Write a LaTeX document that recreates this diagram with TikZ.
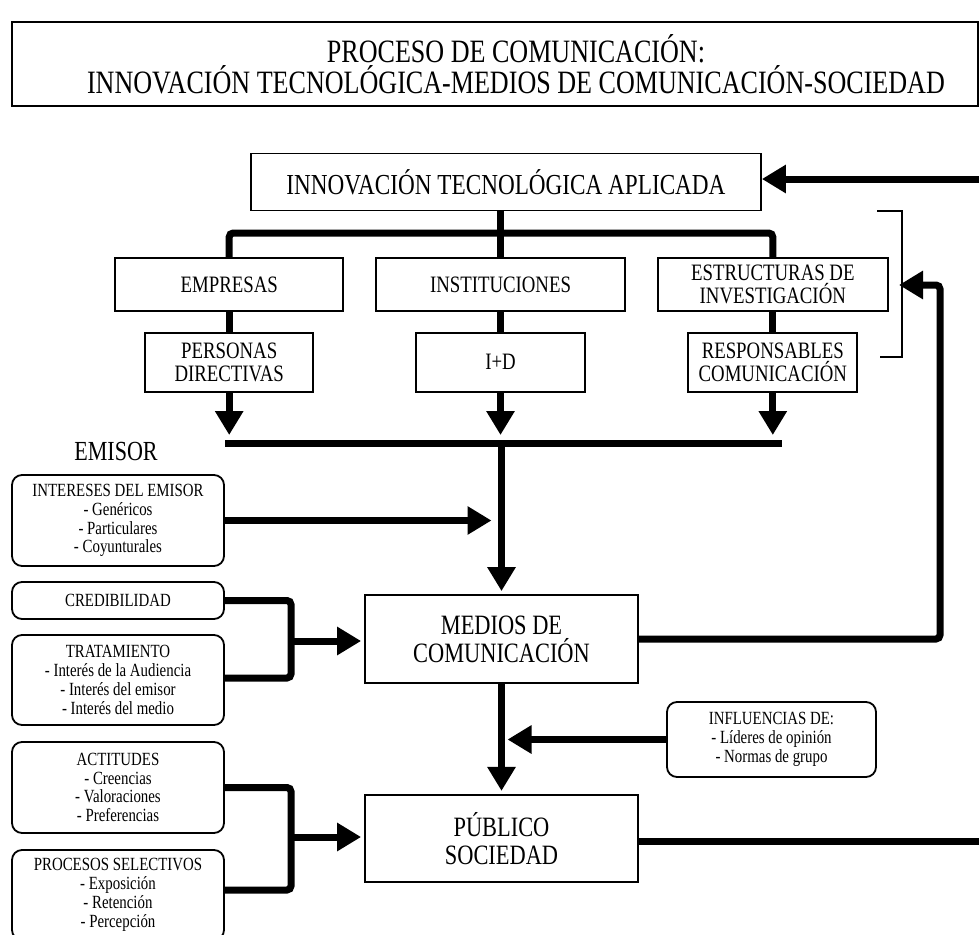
\documentclass[tikz,border=0pt]{standalone}
\usepackage{fontspec}
\setmainfont{Liberation Serif}[FakeStretch=0.8]
\usetikzlibrary{positioning, arrows.meta, calc}

\tikzset{
  base/.style={
    draw,
    line width=1.8pt,
    align=center,
    inner sep=0pt,
  },
  mainbox/.style={base, font=\fontsize{28}{28}\selectfont},
  orgbox/.style={base, font=\fontsize{23.5}{23.5}\selectfont},
  factor/.style={base, rounded corners=10pt, minimum width=212pt, font=\fontsize{18.6}{18.8}\selectfont},
  conn/.style={line width=7pt},
  arr/.style={conn, -{Triangle[length=24pt, width=27pt]}},
  brk/.style={line width=1.6pt},
}

\begin{document}
\begin{tikzpicture}[x=1pt, y=-1pt]
\useasboundingbox (0,0) rectangle (979,934);
\clip (0,0) rectangle (979,934);

% Title
\node[base, minimum width=966pt, minimum height=84pt] (title) at (495,64) {};
\node[font=\fontsize{32.6}{31}\selectfont, align=center, inner sep=0pt] (titletext) at (516,64)
  {PROCESO DE COMUNICACIÓN:\\INNOVACIÓN TECNOLÓGICA-MEDIOS DE COMUNICACIÓN-SOCIEDAD};

% Emisor block
\node[base, font=\fontsize{29}{29}\selectfont, minimum width=510pt, minimum height=57pt] (innov) at (506,182) {INNOVACIÓN TECNOLÓGICA APLICADA};
\node[orgbox, minimum width=249pt, minimum height=53pt] (inst) at (500.5,284.5) {INSTITUCIONES};
\node[orgbox, minimum width=228pt, minimum height=53pt, left=31pt of inst] (emp) {EMPRESAS};
\node[orgbox, minimum width=230pt, minimum height=53pt, right=31pt of inst] (est) {ESTRUCTURAS DE\\INVESTIGACIÓN};
\node[orgbox, minimum width=168pt, minimum height=59pt, below=20pt of emp] (pers) {PERSONAS\\DIRECTIVAS};
\node[orgbox, minimum width=169pt, minimum height=59pt, below=20pt of inst] (imasd) {I+D};
\node[orgbox, minimum width=169pt, minimum height=59pt, below=20pt of est] (resp) {RESPONSABLES\\COMUNICACIÓN};
\node[font=\fontsize{27.6}{27}\selectfont, inner sep=0pt] (emisor) at (116,451) {EMISOR};

% Medios and publico
\node[mainbox, minimum width=273pt, minimum height=88pt] (medios) at (501.5,639) {MEDIOS DE\\COMUNICACIÓN};
\node[mainbox, minimum width=273pt, minimum height=87pt, below=110pt of medios] (publico) {PÚBLICO\\SOCIEDAD};

% Factors (left and right)
\node[factor, minimum height=91pt] (interes) at (118,520.5) {INTERESES DEL EMISOR\\- Genéricos\\- Particulares\\- Coyunturales};
\node[factor, minimum height=37pt] (cred) at (118,600.5) {CREDIBILIDAD};
\node[factor, minimum height=90pt] (trat) at (118,680) {TRATAMIENTO\\- Interés de la Audiencia\\- Interés del emisor\\- Interés del medio};
\node[factor, minimum height=91pt] (actit) at (118,787.5) {ACTITUDES\\- Creencias\\- Valoraciones\\- Preferencias};
\node[factor, minimum height=90pt] (proc) at (118,895) {PROCESOS SELECTIVOS\\- Exposición\\- Retención\\- Percepción};
\node[factor, minimum width=209pt, minimum height=75pt] (infl) at (771.5,739.5) {INFLUENCIAS DE:\\- Líderes de opinión\\- Normas de grupo};

% Helper points
\coordinate (topbar) at (0,233);
\coordinate (barL) at (225,443);
\coordinate (barR) at (782,443);
\coordinate (j1) at (291,641);
\coordinate (j2) at (291,837);
\coordinate (fb) at (940,285);
\coordinate (fbtip) at (899,285);
\coordinate (retorno) at (990,179);
\coordinate (salida) at (990,841);
\coordinate (brkA) at (877,211);
\coordinate (brkB) at (902,357);
\coordinate (brkC) at (880,357);

% --- Connectors ---------------------------------------------------------
\draw[arr] (retorno) -- (innov.east |- retorno);
\draw[conn] (innov.south -| inst.north) -- (inst.north);
\draw[conn, rounded corners=4pt] (emp.north) |- (topbar -| est.north) -- (est.north);
\foreach \a/\b in {emp/pers, inst/imasd, est/resp}
  {\draw[conn] (\a.south) -- (\b.north);}
\foreach \b in {pers, imasd, resp}
  {\draw[arr] (\b.south) -- ([yshift=8pt]\b.south |- barL);}
\draw[conn] (barL) -- (barR);
\draw[arr, shorten >=3pt] (medios.north |- barL) -- (medios.north);
\draw[arr, shorten >=10pt] (interes.east) -- (medios.north |- interes.east);

\draw[conn, rounded corners=4pt] (cred.east) -| (j1) |- ([yshift=2pt]trat.east);
\draw[arr, shorten >=3pt] (j1) -- (medios.west |- j1);
\draw[arr, rounded corners=4pt] (medios.east) -| (fb) -- (fbtip);
\draw[brk] (brkA) -| (brkB) -- (brkC);

\draw[arr, shorten >=3pt] (medios.south) -- (publico.north);
\draw[arr, shorten >=6pt] (infl.west) -- (medios.south |- infl.west);

\draw[conn, rounded corners=4pt] (actit.east) -| (j2) |- ([yshift=5pt]proc.east);
\draw[arr, shorten >=3pt] (j2) -- (publico.west |- j2);
\draw[conn] (publico.east |- salida) -- (salida);

\end{tikzpicture}
\end{document}
